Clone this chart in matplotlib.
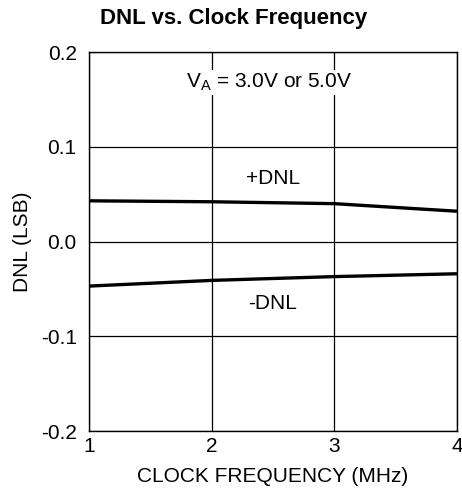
import matplotlib.pyplot as plt

# values
freq_mhz = [1.0, 2.0, 3.0, 4.0]
dnl_pos = [0.043, 0.042, 0.040, 0.032]
dnl_neg = [-0.047, -0.041, -0.037, -0.034]
x_ticks = [1, 2, 3, 4]
y_ticks = [-0.2, -0.1, 0.0, 0.1, 0.2]

plt.rcParams['font.family'] = ['Liberation Sans', 'DejaVu Sans']

fig = plt.figure(figsize=(4.62, 4.96), dpi=100)
ax = fig.add_axes([0.193, 0.131, 0.796, 0.764])

ax.plot(freq_mhz, dnl_pos, color='black', linewidth=2.4, solid_capstyle='butt')
ax.plot(freq_mhz, dnl_neg, color='black', linewidth=2.4, solid_capstyle='butt')

ax.set_xlim(1, 4)
ax.set_ylim(-0.2, 0.2)
ax.set_xticks(x_ticks)
ax.set_yticks(y_ticks)
ax.set_xticklabels([str(t) for t in x_ticks])
ax.set_yticklabels([f'{t:.1f}' for t in y_ticks])
ax.tick_params(length=0, labelsize=15)
ax.tick_params(axis='y', pad=9)
ax.tick_params(axis='x', pad=4)
ax.grid(True, color='black', linewidth=0.9)
for s in ax.spines.values():
    s.set_linewidth(1.0)

ax.set_xlabel('CLOCK FREQUENCY (MHz)', fontsize=15, labelpad=8)
ax.set_ylabel('DNL (LSB)', fontsize=15, labelpad=6)

ax.text(2.47, 0.168, r'V$_\mathregular{A}$ = 3.0V or 5.0V', ha='center', va='center',
        fontsize=15, bbox=dict(facecolor='white', edgecolor='none', pad=1))
ax.text(2.5, 0.067, '+DNL', ha='center', va='center', fontsize=15)
ax.text(2.5, -0.065, '-DNL', ha='center', va='center', fontsize=15)

fig.text(0.506, 0.963, 'DNL vs. Clock Frequency', ha='center', va='center',
         fontsize=16, fontweight='bold')

fig.savefig('out.png', dpi=100)
